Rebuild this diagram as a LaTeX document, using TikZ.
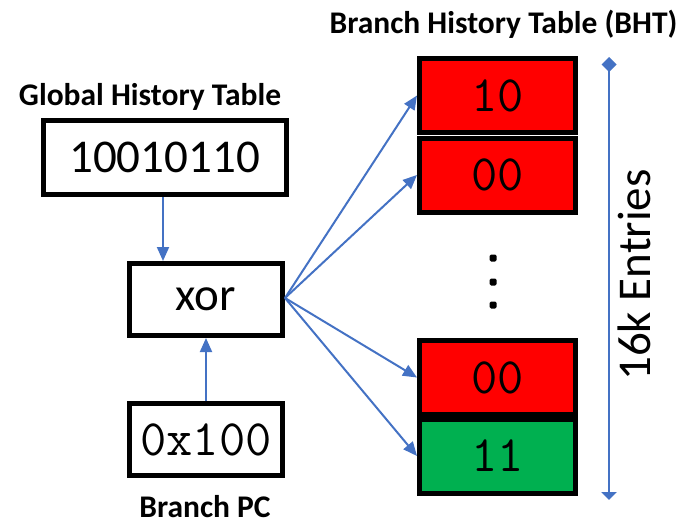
\documentclass[tikz,border=0pt]{standalone}
\usepackage{fontspec}
\setmainfont{Carlito}
\usetikzlibrary{arrows.meta}

\definecolor{linkblue}{HTML}{4472C4}
\definecolor{cellred}{HTML}{FF0000}
\definecolor{cellgreen}{HTML}{00B050}

\tikzset{
  monobig/.style={font=\ttfamily\fontsize{51}{51}\selectfont},
  blackbox/.style={draw=black, line width=5pt, inner sep=0pt,
    minimum width=153pt, minimum height=72pt},
  bhtcell/.style={draw=black, line width=5pt, inner sep=0pt,
    minimum width=156pt, minimum height=74pt, monobig},
  link/.style={draw=linkblue, line width=2pt,
    -{Triangle[length=14pt,width=12pt]}},
  heading/.style={font=\bfseries\fontsize{31.5}{31.5}\selectfont, anchor=base},
  bigsans/.style={font=\fontsize{47}{47}\selectfont}
}

\begin{document}
\begin{tikzpicture}[x=1pt, y=-1pt]
  \useasboundingbox (0,0) rectangle (680,525);

  % headings
  \node[heading] (ghtlabel) at (150,105) {Global History Table};
  \node[heading] (bhtlabel) at (503.5,33) {Branch History Table (BHT)};
  \node[heading] (pclabel)  at (205,517) {Branch PC};

  % left column boxes
  \node[blackbox, minimum width=243pt, minimum height=74pt, bigsans] (ght) at (164.5,157.5) {10010110};
  \node[blackbox, bigsans] (xor) at (206,299.5) {xor};
  \node[blackbox, monobig] (pc) at (206,439.5) {0x100};

  % branch history table cells
  \node[bhtcell, fill=cellred]   (c1) at (497.5,95.5)  {10};
  \node[bhtcell, fill=cellred]   (c2) at (497.5,175)   {00};
  \node[bhtcell, fill=cellred]   (c3) at (497.5,377.5) {00};
  \node[bhtcell, fill=cellgreen] (c4) at (497.5,456)   {11};

  % vertical ellipsis between the cells
  \foreach \yy in {258,282,305}
    \fill[black, rounded corners=1.5pt] (489.5,\yy-3.5) rectangle (496.5,\yy+3.5);

  % connectors
  \draw[link] ([xshift=-1.5pt]ght.south) -- ([xshift=-1.5pt]ght.south |- xor.north);
  \draw[link] (pc.north) -- (xor.south);
  \coordinate (fan) at (285,298);
  \draw[link] (fan) -- (c1.west);
  \draw[link] (fan) -- (c2.west);
  \draw[link] (fan) -- (c3.west);
  \draw[link] (fan) -- (c4.west);

  % size marker for the table
  \coordinate (mtop) at (609,57);
  \coordinate (mbot) at (609,500);
  \draw[draw=linkblue, fill=linkblue, line width=2.5pt,
        {Diamond[length=15pt,width=15pt]}-{Triangle[length=8pt,width=15pt]}] (mtop) -- (mbot);
  \node[bigsans, rotate=90] (entries) at (634,275) {16k Entries};
\end{tikzpicture}
\end{document}
